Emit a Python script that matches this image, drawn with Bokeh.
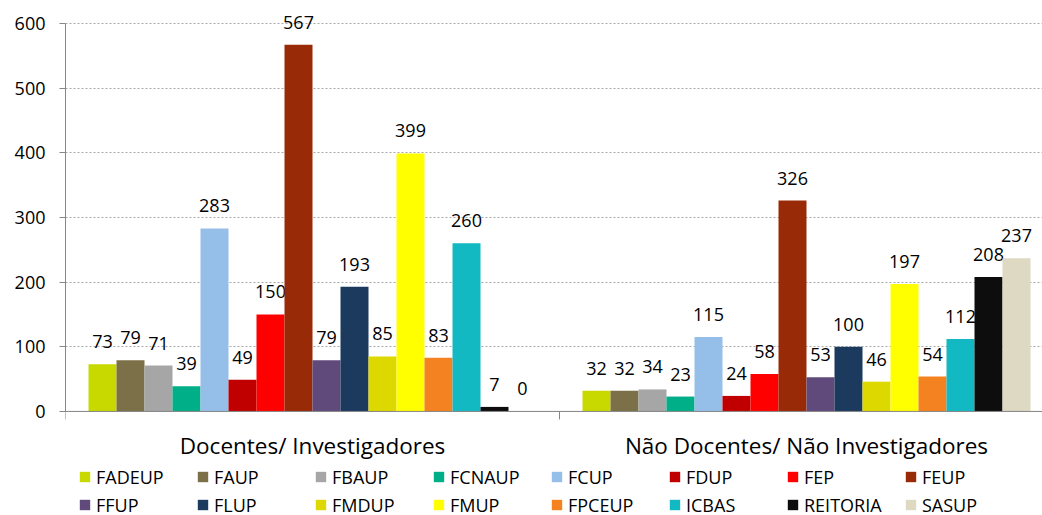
from bokeh.plotting import figure
from bokeh.models import Range1d, FixedTicker, Legend, LegendItem, ColumnDataSource, Span
from bokeh.embed import file_html
from bokeh.resources import INLINE
from bokeh.core.properties import value

groups = ["Docentes/ Investigadores", "Não Docentes/ Não Investigadores"]
units = ["FADEUP", "FAUP", "FBAUP", "FCNAUP", "FCUP", "FDUP", "FEP", "FEUP",
         "FFUP", "FLUP", "FMDUP", "FMUP", "FPCEUP", "ICBAS", "REITORIA", "SASUP"]
docentes = [73, 79, 71, 39, 283, 49, 150, 567, 79, 193, 85, 399, 83, 260, 7, 0]
nao_docentes = [32, 32, 34, 23, 115, 24, 58, 326, 53, 100, 46, 197, 54, 112, 208, 237]
colors = ["#C8D900", "#7B7047", "#A6A6A6", "#00AE88", "#95BFE8", "#C00000", "#FF0000", "#992A07",
          "#604A7B", "#1B3A5E", "#DDD800", "#FFFF00", "#F58220", "#12B9C3", "#0D0D0D", "#DDD9C3"]
y_ticks = [0, 100, 200, 300, 400, 500, 600]

FONT = "Open Sans"
AX = "#868686"

W, H = 1042, 515
LEFT, TOP = 65, 10
PX_PER_UNIT = 388 / 600.0          # 600 units span 388 px
Y_TOP = 620
Y_BOTTOM = -(H - TOP - Y_TOP * PX_PER_UNIT) / PX_PER_UNIT
GROUP_PX = 494

p = figure(width=W, height=H, output_backend="svg", toolbar_location=None,
           x_range=Range1d(0, (W - LEFT) / GROUP_PX), y_range=Range1d(Y_BOTTOM, Y_TOP),
           x_axis_location=None,
           min_border_left=LEFT, min_border_right=0, min_border_top=TOP, min_border_bottom=0)
p.outline_line_color = None
p.background_fill_color = "white"

# grid
p.xgrid.visible = False
p.ygrid.ticker = FixedTicker(ticks=y_ticks)
p.ygrid.grid_line_color = "#A8A8A8"
p.ygrid.grid_line_dash = "2 2"
p.ygrid.grid_line_width = 1

bw = 28 / GROUP_PX
n = len(units)
items = []
for j, (u, c) in enumerate(zip(units, colors)):
    vals = [docentes[j], nao_docentes[j]]
    xs = [g + 0.5 + (j - (n - 1) / 2) * bw for g in range(len(groups))]
    src = ColumnDataSource(dict(x=xs, top=vals, label=[str(v) for v in vals]))
    r = p.vbar(x="x", top="top", width=bw, source=src, fill_color=c, line_color=None)
    p.text(x="x", y="top", text="label", source=src, text_align="center",
           text_baseline="bottom", y_offset=-16, text_font=value(FONT),
           text_font_size="18px", text_color="black")
    items.append(LegendItem(label=u, renderers=[r]))

# category axis (baseline, boundary ticks, group labels)
p.add_layout(Span(location=0, dimension="width", line_color=AX, line_width=1))
bounds = list(range(len(groups) + 1))
tick_len = 8 / PX_PER_UNIT
p.segment(x0=bounds, y0=[0] * len(bounds), x1=bounds, y1=[-tick_len] * len(bounds),
          line_color=AX, line_width=1)
p.text(x=[g + 0.5 for g in range(len(groups))], y=[0] * len(groups), text=groups,
       text_align="center", text_baseline="middle", y_offset=34,
       text_font=value(FONT), text_font_size="22.5px", text_color="black")

# y axis
ya = p.yaxis[0]
ya.ticker = FixedTicker(ticks=y_ticks)
ya.bounds = (0, 600)
ya.major_tick_out = 6
ya.major_tick_in = 0
ya.minor_tick_line_color = None
ya.major_tick_line_color = AX
ya.axis_line_color = AX
ya.major_label_standoff = 14
ya.major_label_text_font = FONT
ya.major_label_text_font_size = "18px"
ya.major_label_text_color = "black"

legend = Legend(items=items, orientation="horizontal", ncols=8,
                location=(13, -2), border_line_color=None,
                background_fill_alpha=0, padding=0, margin=0,
                glyph_width=13, glyph_height=13, label_standoff=5,
                label_width=97, label_height=25, spacing=3,
                label_text_font=FONT, label_text_font_size="18px",
                label_text_color="black")
p.add_layout(legend, "center")

open("out.html", "w").write(file_html(p, INLINE))
